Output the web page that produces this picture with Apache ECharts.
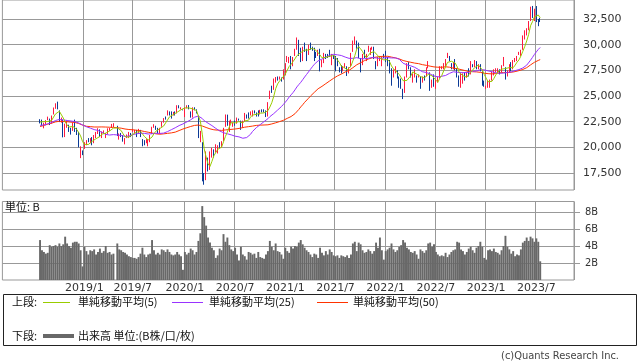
<!DOCTYPE html>
<html><head><meta charset="utf-8">
<script src="https://cdn.jsdelivr.net/npm/echarts@6/dist/echarts.min.js"></script>
<style>html,body{margin:0;padding:0;background:#fff}#c{width:638px;height:362px}</style>
</head><body><div id="c"></div>
<script>
// Monday of the first weekly bar, and empty weeks shown on either side of the data
const firstWeek = '2018-07-30';
const padBefore = 19, padAfter = 17;

// Weekly bars: [open, close, low, high]; null = no trading that week
const candles2018 = [
[22600,22525,22330,22740],[22500,22298,22100,22700],[22250,22270,21850,22400],[22300,22601,22150,22650],
[22700,22865,22650,22990],[22800,22307,22170,22800],[22400,23094,22300,23100],[23200,23869,23200,23880],
[23800,24120,23750,24290],[24200,23784,23700,24450],[23500,22694,22460,23600],[22500,22532,22400,22900],
[22600,21184,20970,22700],[21100,22243,21000,22300],[22200,22250,21900,22590],[22100,21680,21500,22200],
[21800,21646,21240,21900],[21700,22351,21600,22400],[22550,21679,21500,22700],[21400,21374,21200,21900],
[21400,20166,20000,21500],[19800,20014,18950,20100],[19650,19561,19240,19700]];
const candles2019 = [
[19900,20359,19850,20500],[20400,20666,20200,20700],[20800,20773,20500,20900],[20700,20788,20400,20900],
[20900,20333,20200,21000],[20500,20900,20400,21200],[20900,21425,20900,21500],[21500,21602,21300,21860],
[21700,21025,21000,21750],[21000,21450,20900,21550],[21500,21627,21300,21650],[21200,21205,20900,21400],
[21300,21807,21300,21850],[21800,21870,21600,21900],[22000,22200,21900,22280],[22200,22258,21960,22350],
null,
[22000,21345,21100,22100],[21200,21250,20750,21350],[21300,21117,21000,21400],[21100,20601,20550,21200],
[20400,20884,20290,20900],[21100,21116,20900,21250],[21100,21259,20900,21500],[21300,21275,21000,21400],
[21600,21746,21500,21800],[21600,21685,21400,21700],[21600,21467,21000,21700],[21500,21658,21400,21800],
[21600,21087,21000,21700],[20700,20684,20100,20800],[20600,20418,20200,20700],[20500,20710,20400,20800],
[20300,20704,20100,20800],[20700,21199,20500,21200],[21300,21988,21300,22000],[22000,22079,21900,22250],
[21900,21878,21700,22100],[21900,21410,21300,21900],[21400,21798,21300,21900],[22000,22492,22000,22500],
[22500,22800,22400,22850],[22900,22851,22700,23000],[23200,23391,23100,23600],[23500,23303,23100,23500],
[23400,23113,22800,23500],[23200,23293,23100,23450],[23400,23354,23100,23500],[23500,24023,23300,24100],
[24000,23816,23800,24100],[23800,23837,23700,23900],[23700,23656,23600,23700]];
const candles2020 = [
[23300,23850,22950,23900],[23900,24041,23800,24100],[24100,23827,23700,24115],[23400,23205,22890,23500],
[23100,23827,22900,23900],[23800,23687,23600,23900],[23600,23386,23300,23700],[22800,21142,20900,23100],
[20700,20749,20500,21600],[20500,17431,16690,20500],[17000,16552,16358,17500],[17000,19389,16800,19600],
[18700,17820,17650,19000],[18000,19498,17800,19600],[19100,19897,19000,19950],[19700,19262,19000,19800],
[19500,20193,19500,20300],[19800,20179,19400,20200],[20300,20037,19900,20500],[20200,20388,20000,20600],
[20600,21877,20600,21900],[22000,22863,22000,23200],[23100,22305,22100,23185],[21800,22478,21500,22600],
[22400,22512,22300,22700],[22300,22306,22000,22400],[22500,22291,22100,22600],[22400,22696,22300,22900],
[22800,22751,22600,22800],[22600,21710,21700,22600],[22000,22418,21900,22600],[22600,23289,22500,23350],
[23100,22920,22800,23200],[23000,22882,22800,23400],[23200,23205,23100,23500],[23100,23406,23000,23600],
[23500,23360,23300,23600],[23400,23204,23000,23400],[23300,23029,23000,23600],[23200,23619,23200,23650],
[23600,23410,23400,23700],[23600,23516,23400,23700],[23500,22977,22950,23600],[23100,24325,23000,24400],
[24800,25385,24700,25520],[25700,25527,25300,26000],[25700,26537,25600,26700],[26500,26751,26300,26850],
[26700,26652,26500,26900],[26700,26763,26600,26900],[26700,26656,26400,26800],[26700,27444,26600,27600]];
const candles2021 = [
[27200,28139,27000,28200],[28300,28519,28300,28900],[28400,28631,28200,28800],[28800,27663,27600,28900],
[27900,28779,27900,28800],[29000,29520,28900,29600],[29800,30018,29500,30700],[30100,28966,28900,30470],
[29300,28864,28300,29700],[28700,29717,28400,29800],[29800,29792,29300,30200],[29500,29176,28400,29600],
[29300,29854,29000,30000],[30000,29768,29500,30200],[29700,29683,29400,29800],[29600,29020,28400,29700],
[29100,28812,28700,29300],[29000,29357,28900,29500],[29400,28084,27400,29600],[28200,28317,27800,28500],
[28400,29149,28200,29200],[29000,28941,28600,29100],[29000,28948,28700,29100],[29200,28964,28800,29500],
[28300,29066,28000,29100],[29000,28783,28600,29000],[28800,27940,27400,28900],[28200,28003,27900,28700],
[27800,27548,27300,27800],[27700,27284,27200,28000],[27500,27820,27400,27900],[27900,27977,27700,28200],
[27800,27013,26950,27900],[27200,27641,27200,27800],[27800,29128,27800,29200],[29300,30381,29300,30400],
[30500,30500,30000,30800],[30400,30248,29600,30400],[30000,28771,28700,30200],[28700,28048,27300,28700],
[28200,29068,28000,29100],[29100,28804,28700,29500],[28600,28892,28400,29100],[29600,29611,29300,29900],
[29500,29609,29000,29700],[29700,29745,29500,29800],[29700,28751,28600,29800],[28200,28029,27600,28400],
[28000,28437,27900,28800],[28500,28545,28400,28900],[28500,28782,27900,28800],[28900,28791,28700,29100]];
const candles2022 = [
[29100,28478,28300,29400],[28300,28124,27900,28800],[28300,27522,27200,28500],[27500,26717,26000,27700],
[27000,27439,26800,27600],[27300,27696,27200,27900],[27300,27122,26700,27500],[26900,26476,25800,26900],
[26500,25985,25700,26700],[25400,25163,24700,25700],[25300,26827,25300,26900],[26900,28149,26800,28200],
[28200,27666,27600,28300],[27700,26985,26800,27800],[26800,27093,26300,27200],[26900,27105,26800,27600],
[26900,26847,26300,27000],[27000,27003,26800,27100],[26900,26427,25700,26900],[26600,26739,26300,26900],
[26800,26781,26500,27000],[26900,27761,26900,27800],[27800,27824,27700,28400],[27200,25963,25500,27300],
[26000,26491,25800,26600],[26800,25935,25900,27100],[26100,26517,25700,26600],[26600,26788,26300,26900],
[26900,27914,26700,27900],[27800,27801,27600,27900],[27900,28175,27600,28200],[28200,28547,27800,28600],
[28800,28930,28700,29200],[28800,28641,28400,28900],[27900,27650,27600,28200],[27700,28214,27600,28300],
[28400,27567,27500,28600],[27600,27153,26800,27700],[26600,25937,25900,27000],[26000,27116,25800,27300],
[26900,27090,26200,27200],[27200,26890,26500,27300],[27000,27105,26800,27300],[27500,27199,26900,27700],
[27500,28263,27100,28400],[28000,27899,27800,28100],[27800,28283,27800,28500],[28200,27777,27600,28400],
[27800,27901,27600,28100],[27900,27527,27400,28100],[27200,26235,26000,27400],[26300,26094,25900,26500]];
const candles2023 = [
[25800,25973,25700,26000],[26000,26119,25800,26500],[26100,26553,25800,26600],[26600,27382,26500,27400],
[27400,27509,27000,27600],[27600,27670,27300,27700],[27500,27513,27300,27700],[27500,27453,27100,27600],
[27400,27927,27300,28000],[28100,28143,27900,28800],[27700,27333,26600,27800],[27100,27385,26900,27500],
[27300,28041,27300,28100],[28100,27518,27400,28300],[27600,28493,27600,28500],[28500,28564,28300,28700],
[28600,28856,28400,28900],[29100,29157,29000,29300],[29000,29388,28900,29500],[29500,30808,29500,30900],
[30900,30916,30500,31400],[31000,31524,30900,31600],[31600,32265,31400,32300],[32400,33706,32300,33700],
[33700,32781,32600,33770],[32800,33189,32300,33500],[33700,32388,32200,33760],[32400,32391,31800,32500],
[32500,32304,32200,32600]];

// Weekly volume, billions of shares
const volume2018 = [4.7,3.5,3.3,3.1,3.2,4.1,3.9,4.0,4.1,3.9,4.3,4.0,4.2,5.1,4.3,4.0,3.8,4.4,4.5,4.5,4.3,3.5,1.6];
const volume2019 = [3.9,3.4,3.0,3.5, 3.4,3.6,3.0,3.3, 3.7,3.2,3.4,4.0, 3.2,3.3,3.0,3.1,null, 4.3,3.6,3.5,3.3,
  3.2,3.0,2.8,2.7, 2.6,2.6,2.5,2.7,3.1, 3.8,3.0,2.7,3.0, 3.1,4.7,3.5,3.0,3.2, 3.0,3.6,3.5,3.3, 3.6,3.3,3.0,2.9, 3.0,3.3,3.0,2.8,1.2];
const volume2020 = [3.3,3.0,3.2,3.7, 3.5,3.0,3.3,4.6, 5.5,8.7,7.4,6.4,5.0, 4.4,3.8,3.5,2.6, 2.9,3.7,3.5,5.4,
  4.5,5.0,4.1,3.6,3.4, 3.8,3.0,2.3,3.9, 3.0,2.8,2.4,3.3,3.2, 3.0,3.1,2.6,3.3, 2.7,2.6,2.5,3.0, 3.4,4.6,3.9,3.5,4.3, 3.4,3.3,3.0,2.5];
const volume2021 = [3.8,3.4,3.2,3.9, 3.7,4.0,3.9,4.4, 4.7,4.2,3.8,3.5,3.3, 3.0,2.7,3.1,3.0, 2.6,3.8,3.2,2.9,3.4,
  3.0,3.6,3.3,2.9, 2.8,2.9,2.6,2.9, 2.8,2.7,2.9,2.6,3.0, 4.3,4.5,3.4,4.4, 4.2,3.5,3.2,3.3, 3.6,3.4,3.1,3.4,4.4, 3.8,5.0,3.5,2.4];
const volume2022 = [3.4,3.6,3.8,4.3,3.6, 3.3,3.5,3.9,4.1, 4.7,4.4,3.8,3.6, 3.3,3.2,3.4,3.0, 2.5,3.6,3.4,3.2,3.5,
  4.3,4.4,3.9,4.2, 3.3,3.0,2.8,2.9, 2.8,3.2,2.7,3.0,3.3, 3.5,3.6,4.5,4.4, 3.6,3.4,3.0,3.3,3.7, 3.9,3.5,3.2,3.8, 4.0,4.5,3.9,2.6];
const volume2023 = [2.4,3.5,3.6,3.4,3.7, 3.3,3.2,3.0,3.5, 4.0,5.2,3.9,3.6, 3.1,3.4,2.8,3.0, 2.9,3.6,4.4,4.6,5.0,
  4.6,5.1,4.9,4.5, 4.9,4.5,2.2];

// 51 weekly closes before the first bar (Aug 2017 - Jul 2018), used for the moving averages
const priorCloses = [19730,19470,19452,19691,19275,19909,20296,20356,20690,21155,21457,22008,22539,
  22681,22397,22551,22819,22811,22553,22902,22765,23715,23653,23808,23632,23275,21383,21720,21893,
  21182,21470,21676,20618,21454,21568,21779,22162,22468,22473,22758,22930,22451,22171,22695,22852,
  22517,22305,21788,22597,22698,22713];

const tickWeeks = ['2019-01-07','2019-07-01','2020-01-06','2020-07-06','2021-01-04','2021-07-05',
  '2022-01-03','2022-07-04','2023-01-02','2023-07-03'];
const tickLabels = ['2019/1','2019/7','2020/1','2020/7','2021/1','2021/7','2022/1','2022/7','2023/1','2023/7'];
const priceTicks = [17500,20000,22500,25000,27500,30000,32500];
const volumeTicks = [2,4,6,8];
const maPeriods = [5,25,50];
const maNames = ['単純移動平均(5)','単純移動平均(25)','単純移動平均(50)'];

// ---------- build ----------
const candles = [].concat(candles2018,candles2019,candles2020,candles2021,candles2022,candles2023);
const volumes = [].concat(volume2018,volume2019,volume2020,volume2021,volume2022,volume2023);
const nCat = padBefore + candles.length + padAfter;
const pad2 = n => (n < 10 ? '0' : '') + n;
const categories = [];
const t0 = Date.UTC(+firstWeek.slice(0,4), +firstWeek.slice(5,7)-1, +firstWeek.slice(8,10)) - padBefore*7*86400000;
for (let i = 0; i < nCat; i++) {
  const d = new Date(t0 + i*7*86400000);
  categories.push(d.getUTCFullYear() + '-' + pad2(d.getUTCMonth()+1) + '-' + pad2(d.getUTCDate()));
}
const candleData = [], volumeData = [], closeSeq = priorCloses.slice(), closeIdx = [];
candles.forEach((c, i) => {
  if (!c) return;
  const x = padBefore + i;
  candleData.push([x, c[0], c[1], c[2], c[3]]);
  closeSeq.push(c[1]); closeIdx.push(x);
});
volumes.forEach((v, i) => { if (v != null) volumeData.push([padBefore + i, v]); });
function movingAverage(n) {
  const out = [];
  closeIdx.forEach((x, k) => {
    const p = priorCloses.length + k;
    if (p < n - 1) return;
    let s = 0; for (let j = p - n + 1; j <= p; j++) s += closeSeq[j];
    out.push([x, s / n]);
  });
  return out;
}
const maColors = ['#99cc00','#9933ff','#ff3300'];
const isTick = (i, v) => tickWeeks.indexOf(v) >= 0;
const numFont = 'DejaVu Sans';
const jpFont = '"Noto Sans CJK JP"';
const gridLine = {show: true, interval: isTick, lineStyle: {color: '#999', width: 1}};

const chart = echarts.init(document.getElementById('c'), null, {renderer: 'canvas'});
const option = {
  animation: false,
  backgroundColor: '#fff',
  grid: [
    {left: 2.4, right: 64, top: 0, height: 190, show: true, borderColor: '#999', borderWidth: 1},
    {left: 2.4, right: 64, top: 201.5, height: 78.5, show: true, borderColor: '#999', borderWidth: 1}
  ],
  xAxis: [
    {type: 'category', gridIndex: 0, data: categories, boundaryGap: true,
     axisLine: {show: false}, axisTick: {show: false}, axisLabel: {show: false}, splitLine: gridLine},
    {type: 'category', gridIndex: 1, data: categories, boundaryGap: true,
     axisLine: {show: false}, axisTick: {show: false}, splitLine: gridLine,
     axisLabel: {show: true, interval: isTick, margin: 3, color: '#333', fontSize: 11, fontFamily: numFont,
       formatter: v => tickLabels[tickWeeks.indexOf(v)] || ''}}
  ],
  yAxis: [
    {type: 'value', gridIndex: 0, position: 'right', min: 15844, max: 34350, scale: true,
     axisLine: {show: false}, axisTick: {show: false, customValues: priceTicks},
     axisLabel: {customValues: priceTicks, margin: 9, color: '#333', fontSize: 11, fontFamily: numFont,
       formatter: v => Math.round(v).toLocaleString('en-US')},
     splitLine: {show: true, lineStyle: {color: '#999', width: 1}}},
    {type: 'value', gridIndex: 1, position: 'right', min: 0, max: 9.24,
     axisLine: {show: false}, axisTick: {show: true, customValues: volumeTicks, length: 6, lineStyle: {color: '#999'}},
     axisLabel: {customValues: volumeTicks, margin: 11, color: '#333', fontSize: 11, fontFamily: 'DejaVu Sans Condensed',
       formatter: v => v + 'B'},
     splitLine: {show: true, lineStyle: {color: '#999', width: 1}}}
  ],
  series: [
    {type: 'candlestick', xAxisIndex: 0, yAxisIndex: 0, data: candleData, encode: {x: 0, y: [1,2,3,4]},
     barWidth: 1, itemStyle: {color: '#ff1a40', color0: '#0b3a96', borderColor: '#ff1a40', borderColor0: '#0b3a96', borderWidth: 1}},
    {type: 'line', name: maNames[2], xAxisIndex: 0, yAxisIndex: 0, data: movingAverage(maPeriods[2]), showSymbol: false,
     lineStyle: {color: maColors[2], width: 1}, z: 3},
    {type: 'line', name: maNames[1], xAxisIndex: 0, yAxisIndex: 0, data: movingAverage(maPeriods[1]), showSymbol: false,
     lineStyle: {color: maColors[1], width: 1}, z: 4},
    {type: 'line', name: maNames[0], xAxisIndex: 0, yAxisIndex: 0, data: movingAverage(maPeriods[0]), showSymbol: false,
     lineStyle: {color: maColors[0], width: 1}, z: 5},
    {type: 'bar', xAxisIndex: 1, yAxisIndex: 1, data: volumeData, barWidth: '100%', barCategoryGap: '0%',
     itemStyle: {color: '#686868'}}
  ],
  graphic: [
    {type: 'text', x: 5, y: 207, style: {text: '単位: B', font: '11px ' + jpFont, fill: '#111', verticalAlign: 'middle'}},
    {type: 'rect', shape: {x: 3.5, y: 294.5, width: 633, height: 51}, style: {fill: 'none', stroke: '#222', lineWidth: 1}},
    {type: 'text', x: 12, y: 302, style: {text: '上段:', font: '11px ' + jpFont, fill: '#111', verticalAlign: 'middle'}},
    {type: 'line', shape: {x1: 43, y1: 302.5, x2: 70, y2: 302.5}, style: {stroke: maColors[0], lineWidth: 1}},
    {type: 'text', x: 78, y: 302, style: {text: maNames[0], font: '11px ' + jpFont, fill: '#111', verticalAlign: 'middle'}},
    {type: 'line', shape: {x1: 172, y1: 302.5, x2: 203, y2: 302.5}, style: {stroke: maColors[1], lineWidth: 1}},
    {type: 'text', x: 209, y: 302, style: {text: maNames[1], font: '11px ' + jpFont, fill: '#111', verticalAlign: 'middle'}},
    {type: 'line', shape: {x1: 317, y1: 302.5, x2: 348, y2: 302.5}, style: {stroke: maColors[2], lineWidth: 1}},
    {type: 'text', x: 353, y: 302, style: {text: maNames[2], font: '11px ' + jpFont, fill: '#111', verticalAlign: 'middle'}},
    {type: 'text', x: 12, y: 336, style: {text: '下段:', font: '11px ' + jpFont, fill: '#111', verticalAlign: 'middle'}},
    {type: 'line', shape: {x1: 43, y1: 336, x2: 74, y2: 336}, style: {stroke: '#686868', lineWidth: 4}},
    {type: 'text', x: 78, y: 336, style: {text: '出来高 単位:(B株/口/枚)', font: '11px ' + jpFont, fill: '#111', verticalAlign: 'middle'}},
    {type: 'text', x: 619, y: 356, style: {text: '(c)Quants Research Inc.', font: '11px "DejaVu Sans Condensed", "DejaVu Sans"', fill: '#444', align: 'right', verticalAlign: 'middle'}}
  ]
};
chart.setOption(option);
</script></body></html>
